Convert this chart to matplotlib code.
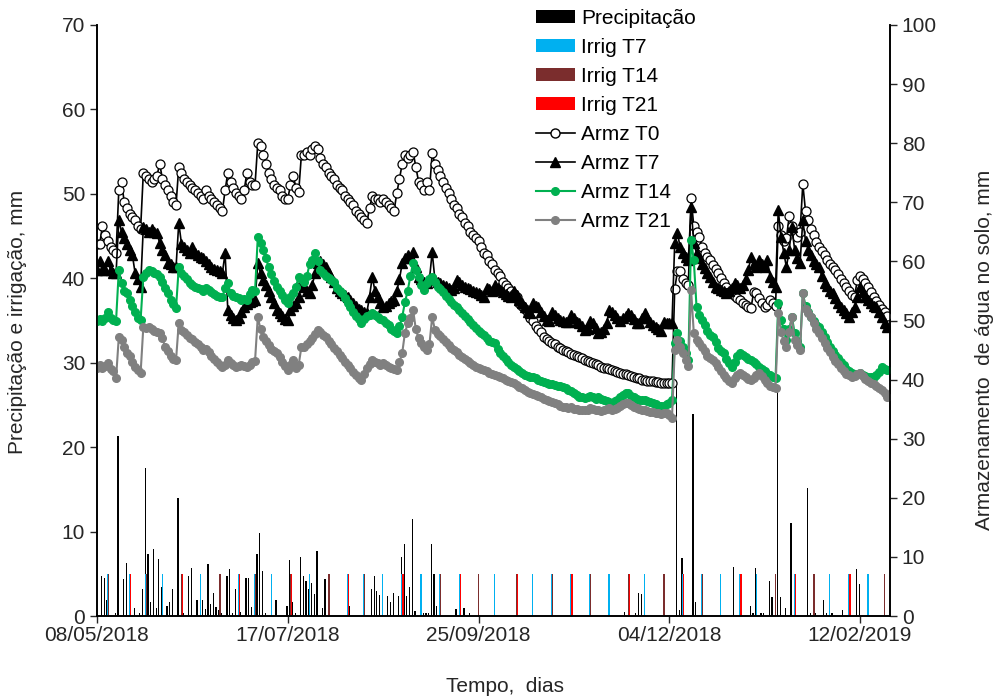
import matplotlib
matplotlib.use("Agg")
import matplotlib.pyplot as plt
from matplotlib.patches import Patch
from matplotlib.lines import Line2D

plt.rcParams['font.family'] = ['Liberation Sans', 'DejaVu Sans']

# daily storage (mm), day 0 = 08/05/2018
armz_t0 = [
    63, 63, 66, 64.5, 63.5, 62.5, 62, 61.5, 72, 73.5,
    70, 69, 68, 67.5, 67, 66, 65.5, 75, 74.5, 74,
    73.5, 74, 74.5, 76.5, 74, 73, 72, 71, 70, 69.5,
    76, 75, 74, 73.5, 73, 72.5, 72, 71.5, 71, 70.5,
    72, 71, 70.5, 70, 69.5, 69, 68.5, 72, 75, 73.5,
    72.5, 71.5, 71, 70.5, 72, 75, 73.5, 73, 73, 80,
    79.5, 78, 76.5, 75, 74, 73, 72.5, 72, 71, 70.5,
    70.5, 73, 74.5, 72.5, 71.7, 78, 78, 78.5, 78, 79,
    79.5, 79, 77.5, 76.5, 76, 75, 74.5, 74, 73, 72.5,
    72, 71, 70.5, 70, 69.5, 68.5, 68, 67.5, 67, 66.5,
    69, 71, 70.5, 70.5, 70, 70.5, 70, 69.5, 69, 68.5,
    71.5, 74, 76.5, 78, 77.5, 78, 78.5, 76, 73.5, 73,
    72, 73.5, 72, 78.3, 76.5, 75.5, 74.5, 73.5, 72.5, 71.5,
    70.5, 69.5, 69, 68, 67.5, 66.5, 66, 65, 64.5, 64,
    63.5, 62.5, 61.5, 61, 60, 59.5, 58.5, 58, 57.5, 56.5,
    56, 55.5, 55, 54.5, 54, 53, 52.5, 52, 51.3, 50.5,
    50, 49, 48.5, 48, 47.2, 46.8, 46.5, 46.2, 46, 45.6,
    45.3, 45, 44.8, 44.6, 44.4, 44.2, 44, 43.8, 43.6, 43.4,
    43.2, 43, 42.8, 42.6, 42.4, 42.2, 42, 41.9, 41.8, 41.6,
    41.5, 41.3, 41.2, 41, 40.9, 40.7, 40.6, 40.4, 40.3, 40.2,
    40, 39.9, 39.8, 39.7, 39.7, 39.6, 39.6, 39.5, 39.5, 39.4,
    39.4, 39.4, 55.4, 58.3, 58.3, 57.1, 56.3, 56, 70.7, 66,
    65, 64.2, 62.5, 61.5, 60.8, 60.2, 59.4, 58.7, 58, 57.2,
    56.3, 55.6, 54.9, 54.6, 54.2, 53.8, 53.4, 53, 52.7, 52.3,
    52.1, 54.9, 54.6, 53.8, 53, 52.3, 52.6, 53.5, 53, 52.5,
    66, 64.5, 63.5, 64, 67.6, 66, 65, 64.2, 65, 73.1,
    68.5, 67, 65.5, 64.5, 63.3, 62.5, 61.8, 61, 60.2, 59.6,
    59, 58.5, 57.8, 57, 56.3, 55.6, 55, 54.3, 54, 56.9,
    57.5, 57, 56.4, 55.6, 54.8, 54, 53.3, 52.6, 52, 51.5,
    50.8]

armz_t7 = [
    58.5, 60, 58.5, 58.5, 60, 58.5, 58, 58, 67, 65,
    64, 63, 62, 61, 58, 57, 55.7, 65.8, 65.5, 65,
    65.5, 65, 64.8, 63.1, 62, 61, 59.7, 59.5, 59, 59,
    66.5, 63, 62.4, 62, 61.4, 62.4, 61.5, 61, 60.8, 60.5,
    60, 59.5, 59, 58.7, 58.5, 58.3, 58, 61.4, 51.8, 51,
    50.5, 50.1, 50.5, 51.5, 52.3, 52.8, 53.2, 53.3, 53.5, 59.7,
    58, 56.9, 56, 55, 54, 53, 51.8, 51.3, 50.8, 50.3,
    50.1, 51.8, 52.5, 53, 54, 56.3, 55.7, 55, 54.6, 56,
    58, 59.7, 60, 59.5, 59, 58, 57.4, 56.5, 55.5, 55,
    54.6, 54.3, 54, 53.5, 53, 52.5, 52, 51.8, 51.5, 51.3,
    54, 57.4, 55, 54, 53, 52.3, 52.5, 53, 53.3, 53.5,
    55, 57, 59.7, 60.5, 61, 60.5, 61.6, 59, 57.4, 57,
    56.5, 56.3, 57, 61.6, 56.9, 56.5, 56.3, 56, 55.8, 55.5,
    55.2, 55.5, 56.9, 56.5, 56, 55.7, 55.5, 55.3, 55, 54.8,
    54.6, 54.3, 54, 55.5, 55.3, 55, 56, 55.5, 55.2, 54.8,
    54.5, 54.2, 54, 55, 54.3, 53.5, 53, 52.3, 51.5, 51.3,
    53, 52.5, 52.3, 51.5, 50.8, 50.1, 50, 51.5, 51, 50.5,
    50.1, 50, 49.8, 49.7, 51, 50.5, 49.8, 49.6, 49, 48.4,
    48.5, 50, 49.5, 48.8, 47.9, 48, 48.5, 49.5, 51.8, 51.5,
    51, 50.5, 50, 50.5, 50.8, 51.3, 51, 50.2, 49.6, 49.5,
    50.5, 51.3, 50.5, 49.8, 49.2, 48.9, 48.5, 48.3, 49.7, 49.6,
    49.6, 49.6, 63.1, 64.8, 62.4, 61.5, 60.8, 60.2, 69.2, 63.1,
    61.4, 60.5, 59.5, 58.8, 58, 57.4, 56.5, 55.7, 55.5, 55.2,
    55, 54.6, 55, 55.5, 56.3, 56, 55.5, 56, 57, 58.5,
    60.8, 59.5, 59, 60.2, 59.5, 59, 60.2, 57.4, 56.5, 55.7,
    68.7, 64.1, 61.5, 59, 62, 65.8, 62, 60.5, 59.7, 67,
    63.5, 62, 61, 60, 59.5, 59, 57.5, 56.3, 55.8, 55,
    54.6, 53.8, 53, 52.3, 51.8, 51.2, 50.6, 51.5, 52.3, 54,
    55.7, 54.8, 54, 53.5, 53, 52.5, 52.3, 51.5, 50.6, 49.5,
    48.9]

armz_t14 = [
    50, 50.3, 50, 50.5, 51.4, 50.5, 50.1, 50, 58.5, 56.3,
    55, 54.6, 53.5, 52.5, 51.5, 50.5, 50.1, 57.4, 58, 58.5,
    58.3, 58, 57.8, 57.4, 56.5, 55.5, 54.6, 53.5, 52.8, 52.1,
    59, 58, 57.5, 57, 56.3, 56, 55.7, 55.5, 55.3, 55,
    55.5, 55.2, 54.8, 54.5, 54.2, 54, 54, 55.5, 56.3, 54.6,
    54.2, 54, 53.8, 53.5, 53.7, 53.5, 54.5, 55.2, 55, 64.1,
    63.1, 62, 60.5, 59, 57.8, 56.7, 55.7, 55, 54.3, 53.5,
    53, 54, 54.6, 55.7, 57.4, 57, 56.5, 57.5, 59.5, 60.2,
    61.4, 60, 58.5, 58, 57.5, 57.2, 56.9, 56.5, 55.5, 55,
    54.6, 53.8, 53, 52.2, 51.5, 50.8, 50.3, 49.6, 50.2, 50.8,
    51, 51.3, 51, 50.6, 50.3, 50.1, 49.6, 49.2, 48.6, 48.2,
    47.9, 49, 50.6, 53.1, 55, 57.5, 59.7, 58.5, 57.4, 56,
    55.2, 56.3, 57, 57.4, 56.5, 55.7, 55.3, 54.8, 54.2, 53.7,
    53.2, 52.7, 52.2, 51.8, 51.3, 50.8, 50.3, 49.8, 49.3, 48.8,
    48.3, 47.9, 47.5, 47, 46.5, 46.3, 46.2, 45.2, 44.5, 44,
    43.5, 43, 42.5, 42.1, 41.8, 41.5, 41.1, 40.8, 40.6, 40.4,
    40.5, 40.3, 40, 39.8, 39.6, 39.4, 39.2, 39.3, 39.1, 39,
    38.9, 38.8, 38.5, 38.2, 38, 37.7, 37.4, 37.1, 37, 36.9,
    37, 37.2, 37, 36.8, 37, 36.7, 36.5, 36.3, 36.2, 36,
    36.3, 36.5, 37, 37.4, 37.7, 37.7, 37.3, 37, 36.8, 36.6,
    36.5, 36.5, 36.3, 36.2, 36, 35.8, 35.6, 35.5, 35.6, 35.8,
    36, 36.5, 46.2, 47.9, 46.5, 45.5, 44.5, 43.3, 63.6, 60.2,
    52.3, 51, 50.1, 49.2, 48.3, 47.6, 47.2, 46.3, 45.4, 44.8,
    44.5, 43.5, 42.8, 42.1, 43, 44, 44.5, 44.2, 43.8, 43.5,
    43.3, 43, 42.7, 42.1, 41.8, 41.4, 41, 40.7, 40.4, 40.3,
    53, 50.1, 48.5, 46.7, 48.5, 50.6, 47.9, 46.5, 45.5, 54.6,
    52.5, 51.5, 50.6, 50, 49.3, 48.9, 48, 47.2, 46.4, 45.6,
    44.9, 44.2, 43.6, 43, 42.4, 41.8, 41.4, 41.1, 41, 41,
    41.1, 40.8, 40.6, 40.5, 40.4, 40.4, 40.8, 41.3, 42.1, 41.8,
    41.6]

armz_t21 = [
    42, 42.5, 42, 42.3, 42.8, 41.8, 41.5, 40.3, 47.2, 46.7,
    45.5, 44.5, 44, 43, 42.2, 41.6, 41.1, 48.9, 48.7, 48.9,
    48.6, 48.3, 48.1, 47.9, 47, 45.5, 44.8, 44, 43.5, 43.3,
    49.6, 48.4, 48, 47.5, 47, 46.8, 46.3, 46, 45.5, 45,
    45.2, 44.6, 44, 43.5, 43, 42.5, 42.1, 42.5, 43.3, 42.8,
    42.4, 42.1, 42.3, 42.5, 42.3, 42.1, 42.5, 43, 43.2, 50.6,
    48.5, 47.2, 46.5, 45.8, 45.2, 44.8, 44.5, 43.8, 43, 42.3,
    41.6, 42.5, 43.3, 42, 42.5, 45.5, 45.5, 46, 46.5, 47,
    47.8, 48.4, 48, 47.5, 47.2, 46.6, 46, 45.4, 44.8, 44.2,
    43.6, 43, 42.4, 41.9, 41.3, 40.8, 40.3, 39.9, 41, 42,
    42.7, 43.3, 43, 42.8, 42.5, 42.8, 42.5, 42.2, 42, 41.8,
    41.6, 43, 44.5, 47.9, 49.5, 50.5, 51.8, 48.5, 47, 46.2,
    45.6, 45, 46, 50.6, 48.4, 47.8, 47.3, 46.8, 46.3, 45.8,
    45.4, 45, 44.6, 44.2, 43.8, 43.5, 43.2, 42.8, 42.5, 42.2,
    42, 41.8, 41.6, 41.4, 41.2, 41, 40.8, 40.6, 40.4, 40.2,
    40, 39.8, 39.6, 39.4, 39.1, 38.8, 38.5, 38.2, 37.9, 37.7,
    37.6, 37.4, 37.2, 37, 36.7, 36.5, 36.3, 36.2, 36, 35.8,
    35.6, 35.4, 35.3, 35.2, 35.3, 35.1, 35, 34.9, 34.8, 34.8,
    34.9, 35.2, 35, 34.8, 34.8, 34.7, 34.8, 35, 35.2, 34.9,
    35, 35.2, 35.5, 35.8, 36, 36, 35.7, 35.4, 35.2, 35,
    34.9, 34.9, 34.7, 34.6, 34.5, 34.4, 34.3, 34.2, 34.3, 34.3,
    34, 33.5, 45, 46.7, 45.5, 44.5, 43.3, 42.3, 55.2, 47.9,
    46.7, 46.2, 45.5, 44.8, 44, 43.6, 43.3, 42.8, 42.1, 41.4,
    40.8, 40.2, 39.7, 39.4, 40.2, 40.8, 41.1, 40.8, 40.4, 40.1,
    39.9, 40.3, 40.8, 41.1, 40.6, 40, 39.4, 39, 38.8, 38.6,
    51.3, 48, 46.5, 45.5, 48, 50.6, 46.7, 45.8, 45, 54.6,
    52, 51.3, 50.6, 49.5, 48.5, 47.9, 47, 46.2, 45.4, 44.6,
    43.8, 43.2, 42.6, 42, 41.5, 41, 40.7, 40.4, 40.6, 40.9,
    41.1, 40.6, 40.1, 39.7, 39.4, 39.2, 39, 38.6, 38.2, 37.7,
    37.1]

days = list(range(len(armz_t0)))

precip_day = [2, 3, 4, 7, 8, 10, 11, 14, 16, 17, 18, 19, 20, 21, 22, 23, 24, 26, 27, 28,
              30, 32, 34, 35, 37, 39, 40, 41, 42, 43, 44, 45, 46, 48, 49, 50, 51, 53, 55, 56,
              57, 58, 59, 60, 61, 62, 66, 70, 71, 72, 73, 75, 76, 77, 78, 79, 80, 81, 83, 84,
              93, 101, 102, 103, 104, 105, 107, 108, 109, 111, 112, 113, 114, 115, 116, 117, 120, 121, 122, 123,
              124, 125, 132, 135, 137, 194, 198, 199, 200, 213, 214, 215, 219, 220, 234, 240, 241, 242, 244, 245,
              247, 248, 250, 251, 253, 255, 261, 262, 264, 267, 268, 270, 274, 279, 280]
precip_mm = [4.7, 4.5, 1.9, 0.3, 21.3, 4.4, 6.3, 0.9, 0.3, 3.2, 17.5, 7.3, 1.6, 7.9, 0.9, 6.8, 3.4, 1.2, 1.6, 3.2,
             14.0, 0.3, 4.7, 5.7, 1.9, 1.9, 0.8, 6.2, 1.4, 2.7, 1.1, 0.7, 0.3, 4.7, 5.6, 0.3, 3.2, 0.5, 4.5, 4.5,
             1.1, 3.1, 7.3, 9.8, 5.3, 0.3, 1.9, 1.2, 6.6, 1.6, 0.3, 7.0, 4.7, 4.1, 3.2, 3.9, 2.6, 7.7, 1.0, 4.4,
             1.2, 3.2, 4.7, 3.0, 2.5, 0.8, 2.4, 1.7, 2.7, 2.4, 7.0, 8.5, 2.4, 3.4, 11.5, 0.6, 0.3, 0.3, 0.3, 8.5,
             5.0, 1.2, 0.8, 1.0, 0.3, 0.5, 0.3, 2.7, 2.6, 27.6, 0.7, 6.9, 23.9, 1.7, 5.8, 1.2, 0.4, 5.7, 0.3, 0.3,
             4.1, 2.3, 27.4, 2.3, 1.0, 11.0, 15.2, 0.4, 0.3, 1.9, 0.3, 0.3, 0.7, 5.6, 3.8]

irrig_t7_day = [4, 12, 18, 24, 31, 38, 45, 52, 58, 64, 71, 78, 85, 92, 98, 105, 112, 119, 126, 133, 140, 146,
                154, 160, 167, 174, 181, 188, 195, 201, 208, 215, 222, 229, 236, 242, 249, 256, 263, 269, 276, 283, 289]
irrig_t14_day = [4, 18, 31, 45, 58, 71, 85, 98, 112, 126, 140, 154, 167, 181, 195, 208, 222, 236, 249, 263, 276, 289]
irrig_t21_day = [12, 31, 52, 71, 92, 112, 133, 154, 174, 195, 215, 236, 256, 276]
irrig_mm = 5.0

tick_days = [0, 70, 140, 210, 280]
tick_labels = ['08/05/2018', '17/07/2018', '25/09/2018', '04/12/2018', '12/02/2019']

c_t7 = '#00B0F0'
c_t14 = '#7B2D2D'
c_t21 = '#FF0000'
c_green = '#00B050'
c_gray = '#808080'
txt = '#262626'
fs = 15

fig = plt.figure(figsize=(9.95, 6.99), dpi=100)
ax = fig.add_axes([97 / 995, 1 - 616 / 699, (890 - 97) / 995, (616 - 25) / 699])
ax2 = ax.twinx()

bw = 0.45
ax.bar([d - 0.3 for d in precip_day], precip_mm, width=bw, color='black', lw=0)
ax.bar([d - 0.1 for d in irrig_t7_day], [irrig_mm] * len(irrig_t7_day), width=bw, color=c_t7, lw=0)
ax.bar([d + 0.1 for d in irrig_t14_day], [irrig_mm] * len(irrig_t14_day), width=bw, color=c_t14, lw=0)
ax.bar([d + 0.3 for d in irrig_t21_day], [irrig_mm] * len(irrig_t21_day), width=bw, color=c_t21, lw=0)

ax2.plot(days, armz_t0, color='black', lw=1.2, marker='o', ms=6.5, mfc='white', mec='black', mew=0.9)
ax2.plot(days, armz_t7, color='black', lw=1.2, marker='^', ms=7, mfc='black', mec='black')
ax2.plot(days, armz_t14, color=c_green, lw=1.5, marker='o', ms=5.5, mfc=c_green, mec=c_green)
ax2.plot(days, armz_t21, color=c_gray, lw=1.5, marker='o', ms=5.5, mfc=c_gray, mec=c_gray)

ax.set_xlim(0, 291)
ax.set_ylim(0, 70)
ax2.set_ylim(0, 100)
ax.set_yticks(range(0, 71, 10))
ax2.set_yticks(range(0, 101, 10))
ax.set_xticks(tick_days)
ax.set_xticklabels(tick_labels)

for a in (ax, ax2):
    a.spines['top'].set_visible(False)
    a.tick_params(labelsize=fs, colors=txt, length=5, width=1, direction='out')
    for s in ('left', 'right', 'bottom'):
        a.spines[s].set_linewidth(1.2)
ax.tick_params(axis='x', pad=2)

fig.text(18 / 995, 1 - 322 / 699, 'Precipitação e irrigação, mm', rotation=90,
         ha='center', va='center', fontsize=fs, color=txt)
fig.text(985 / 995, 1 - 350 / 699, 'Armazenamento  de água no solo, mm', rotation=90,
         ha='center', va='center', fontsize=fs, color=txt)
fig.text(505 / 995, 1 - 686 / 699, 'Tempo,  dias', ha='center', va='center', fontsize=fs, color=txt)

handles = [Patch(facecolor='black'), Patch(facecolor=c_t7), Patch(facecolor=c_t14), Patch(facecolor=c_t21),
           Line2D([], [], color='black', marker='o', ms=6.5, mfc='white', mec='black', lw=1.2),
           Line2D([], [], color='black', marker='^', ms=7, lw=1.2),
           Line2D([], [], color=c_green, marker='o', ms=5.5, lw=1.5),
           Line2D([], [], color=c_gray, marker='o', ms=5.5, lw=1.5)]
labels = ['Precipitação', 'Irrig T7', 'Irrig T14', 'Irrig T21', 'Armz T0', 'Armz T7', 'Armz T14', 'Armz T21']
ax2.legend(handles, labels, loc='upper left', bbox_to_anchor=(536 / 995, 1 - 9 / 699),
           bbox_transform=fig.transFigure, frameon=False, fontsize=fs, handlelength=1.85,
           handleheight=0.6, handletextpad=0.3, labelspacing=0.48, borderpad=0, borderaxespad=0)

fig.savefig('out.png', dpi=100)
